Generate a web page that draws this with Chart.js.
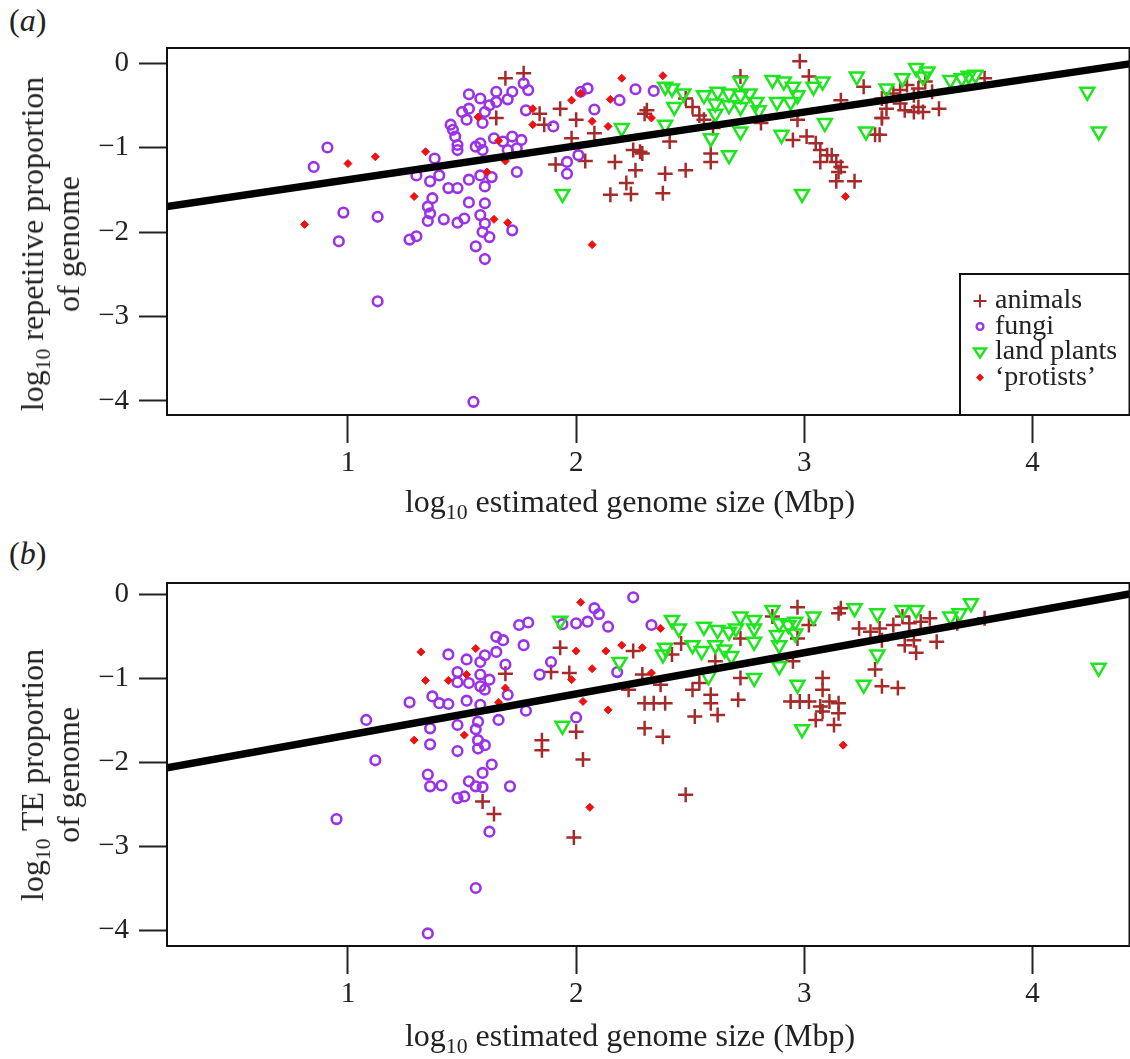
<!DOCTYPE html>
<html lang="en">

<head>
    <meta charset="UTF-8">
    <title>Repetitive and TE proportion vs genome size</title>
    <script src="https://cdn.jsdelivr.net/npm/chart.js"></script>
    <style>
        body { margin: 0; width: 1130px; height: 1059px; overflow: hidden; position: relative; background: #fff; }
        canvas { position: absolute; left: 0; }
        .lbl { position: absolute; font-family: "Liberation Serif", serif; font-size: 32px; color: #222; white-space: nowrap; transform: translate(-50%, -50%); }
        .ylbl { text-align: center; line-height: 36px; transform: translate(-50%, -50%) rotate(-90deg); }
        .panel { position: absolute; font-family: "Liberation Serif", serif; font-size: 32px; color: #222; }
        sub { font-size: 0.68em; line-height: 0; }
    </style>
</head>

<body>
    <div class="panel" style="left:9px; top:2px;">(<i>a</i>)</div>
    <div class="panel" style="left:9px; top:535px;">(<i>b</i>)</div>
    <canvas id="chartA" width="1140" height="530" style="top:0"></canvas>
    <canvas id="chartB" width="1140" height="524" style="top:535px"></canvas>
    <div class="lbl ylbl" style="left:50px; top:244px;">log<sub>10</sub> repetitive proportion<br>of genome</div>
    <div class="lbl ylbl" style="left:50px; top:775px;">log<sub>10</sub> TE proportion<br>of genome</div>
    <div class="lbl" style="left:630px; top:501px;">log<sub>10</sub> estimated genome size (Mbp)</div>
    <div class="lbl" style="left:630px; top:1035px;">log<sub>10</sub> estimated genome size (Mbp)</div>

    <script>
        // axis ranges and ticks
        const xRange = [0.207, 4.425];
        const yRangeA = [-4.166, 0.178];
        const yRangeB = [-4.18, 0.14];
        const xTicks = [1, 2, 3, 4];
        const yTicks = [-4, -3, -2, -1, 0];
        const legendLabels = ['animals', 'fungi', 'land plants', '\u2018protists\u2019'];

        // fitted lines (end points)
        const fitX = [0.207, 4.425];
        const fitA = [-1.70, -0.01];
        const fitB = [-2.06, 0.01];

        // panel (a): repetitive proportion
        const animalsA = [[1.69,-0.18],[1.77,-0.12],[1.65,-0.65],[1.84,-0.60],[1.86,-0.73],[1.93,-0.54],[2.00,-0.67],[1.98,-0.89],[1.91,-1.20],[2.04,-1.16],[2.08,-0.83],[2.17,-1.17],[2.25,-1.03],[2.28,-1.05],[2.26,-1.27],[2.22,-1.42],[2.15,-1.56],[2.24,-1.55],[2.30,-0.60],
            [2.98,0.02],[2.72,-0.16],[3.02,-0.16],[3.26,-0.28],[3.16,-0.44],[2.31,-0.56],[2.48,-0.42],[2.51,-0.52],[2.54,-0.62],[2.56,-0.67],[2.60,-0.77],[2.41,-0.93],[2.29,-1.07],[2.59,-1.07],[2.59,-1.17],[2.48,-1.27],[2.39,-1.31],[2.38,-1.54],[2.81,-0.71],[2.97,-0.67],[2.95,-0.91],[3.01,-0.87],[3.05,-0.95],[3.07,-1.03],[3.10,-1.09],[3.12,-1.09],[3.07,-1.17],[3.14,-1.17],[3.16,-1.23],[3.15,-1.29],[3.14,-1.40],[3.22,-1.40],[3.31,-0.85],[3.34,-0.65],
            [3.34,-0.42],[3.39,-0.36],[3.42,-0.32],[3.45,-0.26],[3.48,-0.38],[3.50,-0.30],[3.53,-0.22],[3.56,-0.34],[3.36,-0.54],[3.44,-0.56],[3.48,-0.58],[3.50,-0.52],[3.52,-0.58],[3.59,-0.54],[3.34,-0.65],[3.33,-0.85],[3.79,-0.18],[3.42,-0.48]];
        const fungiA = [[0.91,-1.00],[0.85,-1.23],[0.98,-1.77],[1.13,-1.82],[0.96,-2.11],[1.13,-2.82],
            [1.77,-0.24],[1.79,-0.32],[1.72,-0.34],[1.65,-0.34],[1.70,-0.43],[1.65,-0.46],[1.53,-0.37],[1.58,-0.42],[1.62,-0.50],[1.50,-0.58],[1.53,-0.54],[1.60,-0.58],[1.52,-0.67],[1.59,-0.71],[1.78,-0.56],[1.90,-0.75],[2.05,-0.30],[2.02,-0.34],[2.08,-0.55],[2.19,-0.44],[2.26,-0.31],
            [1.45,-0.73],[1.46,-0.79],[1.47,-0.87],[1.48,-0.97],[1.48,-1.03],[1.56,-0.99],[1.58,-0.95],[1.59,-1.03],[1.64,-0.89],[1.68,-0.93],[1.72,-0.87],[1.76,-0.91],[1.74,-1.01],[1.70,-1.03],[1.38,-1.13],[1.30,-1.33],[1.36,-1.40],[1.40,-1.33],[1.44,-1.48],[1.48,-1.48],[1.53,-1.38],[1.58,-1.33],[1.63,-1.35],[1.60,-1.46],[1.74,-1.29],[1.96,-1.17],[1.96,-1.31],[2.01,-1.09],
            [1.37,-1.60],[1.35,-1.70],[1.36,-1.78],[1.35,-1.87],[1.42,-1.85],[1.48,-1.89],[1.51,-1.84],[1.53,-1.65],[1.60,-1.66],[1.58,-1.80],[1.60,-1.90],[1.59,-2.00],[1.62,-2.06],[1.72,-1.98],[1.56,-2.17],[1.60,-2.32],[1.27,-2.09],[1.30,-2.05],[1.55,-4.01],[2.34,-0.33]];
        const plantsA = [[1.94,-1.55],[2.20,-0.77],[2.39,-0.28],[2.42,-0.30],[2.47,-0.36],[2.43,-0.52],[2.39,-0.73],[2.56,-0.38],[2.62,-0.34],[2.61,-0.48],[2.61,-0.60],[2.67,-0.36],[2.67,-0.50],[2.72,-0.22],[2.72,-0.38],[2.72,-0.52],[2.76,-0.36],[2.79,-0.46],[2.80,-0.56],[2.72,-0.81],[2.59,-0.89],[2.67,-1.09],
            [2.86,-0.20],[2.91,-0.22],[2.95,-0.28],[2.97,-0.38],[2.88,-0.46],[2.94,-0.46],[3.04,-0.28],[3.08,-0.22],[3.23,-0.16],[3.09,-0.71],[2.90,-0.85],[3.27,-0.81],[2.99,-1.55],
            [3.43,-0.18],[3.49,-0.06],[3.54,-0.10],[3.52,-0.16],[3.64,-0.20],[3.69,-0.18],[3.72,-0.15],[3.75,-0.14],[3.36,-0.30],[4.24,-0.34],[4.29,-0.81]];
        const protistsA = [[1.00,-1.19],[1.12,-1.11],[0.81,-1.91],[2.20,-0.18],[1.98,-0.44],[2.02,-0.36],[2.15,-0.43],[1.81,-0.54],[1.81,-0.73],[2.07,-0.69],[2.14,-0.75],[1.57,-0.64],[1.66,-0.92],[1.34,-1.05],[1.69,-1.16],[1.61,-1.29],[1.29,-1.58],[1.64,-1.85],[1.70,-1.89],[2.07,-2.15],[2.38,-0.15],[2.33,-0.65],[3.18,-1.58]];

        // panel (b): TE proportion
        const animalsB = [[1.93,-0.63],[2.25,-0.67],[1.69,-0.94],[1.89,-0.92],[1.97,-0.93],[2.29,-0.95],[2.23,-1.13],[2.30,-1.29],[2.30,-1.59],[2.00,-1.63],[1.85,-1.73],[1.85,-1.85],[2.03,-1.96],[1.59,-2.46],[1.64,-2.61],[1.99,-2.89],
            [2.97,-0.15],[3.16,-0.16],[3.15,-0.22],[2.86,-0.26],[3.02,-0.36],[3.24,-0.40],[3.29,-0.44],[3.33,-0.40],[2.72,-0.52],[2.97,-0.52],[2.42,-0.71],[2.46,-0.58],[2.61,-0.79],[2.95,-0.79],[2.72,-0.99],[3.08,-0.99],[3.08,-1.13],[3.31,-0.89],[3.34,-1.09],
            [2.37,-1.07],[2.54,-1.05],[2.51,-1.13],[2.59,-1.19],[2.34,-1.29],[2.39,-1.29],[2.59,-1.29],[2.71,-1.25],[2.52,-1.45],[2.62,-1.43],[2.38,-1.69],[2.94,-1.27],[2.98,-1.27],[3.02,-1.27],[3.07,-1.33],[3.11,-1.27],[3.15,-1.29],[3.08,-1.39],[3.15,-1.41],[3.05,-1.49],[3.13,-1.55],[2.48,-2.38],
            [3.39,-0.36],[3.43,-0.26],[3.46,-0.34],[3.51,-0.32],[3.55,-0.28],[3.34,-0.54],[3.44,-0.60],[3.48,-0.54],[3.49,-0.69],[3.58,-0.56],[3.67,-0.34],[3.79,-0.28],[3.41,-1.11]];
        const fungiB = [[1.08,-1.49],[1.12,-1.97],[0.95,-2.67],
            [2.25,-0.03],[2.08,-0.16],[2.10,-0.23],[2.14,-0.38],[2.00,-0.34],[2.05,-0.32],[1.94,-0.35],[1.75,-0.36],[1.79,-0.33],[1.77,-0.60],[1.65,-0.50],[1.68,-0.54],[1.65,-0.68],[1.69,-0.83],[1.44,-0.71],[1.52,-0.77],[1.58,-0.80],[1.60,-0.72],
            [1.48,-0.92],[1.48,-1.04],[1.53,-1.05],[1.58,-0.95],[1.62,-1.01],[1.58,-1.09],[1.60,-1.13],[1.70,-1.19],[1.89,-0.80],[1.84,-0.95],[2.18,-0.92],[1.27,-1.28],[1.37,-1.21],[1.40,-1.29],[1.44,-1.30],[1.52,-1.26],[1.58,-1.31],[1.78,-1.38],
            [1.66,-1.49],[1.57,-1.51],[1.48,-1.55],[1.36,-1.59],[1.56,-1.60],[1.36,-1.78],[1.48,-1.86],[1.57,-1.73],[1.60,-1.79],[1.57,-1.83],[2.00,-1.46],[1.63,-2.02],[1.59,-2.12],[1.35,-2.14],[1.36,-2.28],[1.41,-2.27],[1.53,-2.22],[1.56,-2.28],[1.59,-2.29],
            [1.48,-2.42],[1.51,-2.40],[1.71,-2.28],[1.62,-2.82],[1.56,-3.49],[1.35,-4.03],[2.33,-0.36]];
        const plantsB = [[1.93,-0.31],[2.19,-0.80],[1.94,-1.56],[2.42,-0.30],[2.45,-0.40],[2.39,-0.63],[2.38,-0.71],[2.51,-0.60],[2.55,-0.67],[2.56,-0.38],[2.62,-0.42],[2.61,-0.60],[2.65,-0.65],[2.67,-0.44],[2.70,-0.40],[2.72,-0.26],[2.78,-0.30],[2.78,-0.40],[2.78,-0.56],[2.68,-0.73],[2.58,-0.97],[2.78,-0.99],
            [2.86,-0.18],[2.89,-0.34],[2.93,-0.36],[2.96,-0.32],[2.88,-0.48],[2.89,-0.60],[2.96,-0.46],[3.04,-0.26],[2.89,-0.85],[2.97,-1.07],[2.99,-1.60],[3.22,-0.16],[3.32,-0.22],[3.32,-0.71],[3.26,-1.07],
            [3.43,-0.18],[3.49,-0.18],[3.64,-0.26],[3.68,-0.22],[3.73,-0.10],[4.29,-0.87]];
        const protistsB = [[2.02,-0.09],[1.32,-0.68],[1.56,-0.64],[2.00,-0.67],[2.13,-0.67],[2.20,-0.60],[2.29,-0.63],[1.34,-1.02],[1.44,-1.02],[1.52,-0.95],[1.69,-1.11],[1.66,-1.28],[1.98,-1.01],[2.07,-0.88],[2.03,-1.27],[2.14,-1.37],[1.29,-1.73],[1.51,-1.67],[2.06,-2.53],[2.37,-0.40],[2.33,-0.93],[3.17,-1.79]];

        const colors = { animals: '#a52a2a', fungi: '#9a32e8', plants: '#1ee61e', protists: '#ee1111' };
        const serif = '"Liberation Serif", serif';

        const toXY = arr => arr.map(p => ({ x: p[0], y: p[1] }));

        function makeDatasets(animals, fungi, plants, protists, fit) {
            return [
                { type: 'line', data: fitX.map((x, i) => ({ x: x, y: fit[i] })), borderColor: '#000', borderWidth: 7.5, pointRadius: 0, order: 0 },
                { label: 'protists', data: toXY(protists), pointStyle: 'rectRot', pointRadius: 4, backgroundColor: colors.protists, borderColor: colors.protists, borderWidth: 1, order: 1 },
                { label: 'land plants', data: toXY(plants), pointStyle: 'triangle', rotation: 180, pointRadius: 8, backgroundColor: 'rgba(0,0,0,0)', borderColor: colors.plants, borderWidth: 2.5, order: 2 },
                { label: 'fungi', data: toXY(fungi), pointStyle: 'circle', pointRadius: 4.8, backgroundColor: 'rgba(0,0,0,0)', borderColor: colors.fungi, borderWidth: 2.6, order: 3 },
                { label: 'animals', data: toXY(animals), pointStyle: 'cross', pointRadius: 7.5, borderColor: colors.animals, borderWidth: 2.5, order: 4 }
            ];
        }

        // black frame round the plot area
        const framePlugin = {
            id: 'frame',
            afterDraw(chart) {
                const { ctx, chartArea: a } = chart;
                ctx.save();
                ctx.strokeStyle = '#111';
                ctx.lineWidth = 2;
                ctx.strokeRect(a.left, a.top, a.right - a.left, a.bottom - a.top);
                ctx.restore();
            }
        };

        // legend box in panel (a)
        const legendPlugin = {
            id: 'boxLegend',
            afterDraw(chart) {
                const ctx = chart.ctx;
                const x0 = 960, y0 = 274, x1 = chart.chartArea.right, y1 = chart.chartArea.bottom;
                ctx.save();
                ctx.fillStyle = '#fff';
                ctx.fillRect(x0, y0, x1 - x0, y1 - y0);
                ctx.strokeStyle = '#111';
                ctx.lineWidth = 2;
                ctx.strokeRect(x0, y0, x1 - x0, y1 - y0);
                const mx = 980;
                legendLabels.forEach((label, i) => {
                    const y = 301 + i * 25.5;
                    ctx.lineWidth = 2;
                    if (i === 0) {
                        ctx.strokeStyle = colors.animals;
                        ctx.beginPath();
                        ctx.moveTo(mx - 6.5, y); ctx.lineTo(mx + 6.5, y);
                        ctx.moveTo(mx, y - 6.5); ctx.lineTo(mx, y + 6.5);
                        ctx.stroke();
                    } else if (i === 1) {
                        ctx.strokeStyle = colors.fungi;
                        ctx.lineWidth = 2.4;
                        ctx.beginPath();
                        ctx.arc(mx, y, 3.4, 0, Math.PI * 2);
                        ctx.stroke();
                    } else if (i === 2) {
                        ctx.strokeStyle = colors.plants;
                        ctx.lineWidth = 2.4;
                        ctx.beginPath();
                        ctx.moveTo(mx - 6, y - 3.5); ctx.lineTo(mx + 6, y - 3.5); ctx.lineTo(mx, y + 5.5);
                        ctx.closePath();
                        ctx.stroke();
                    } else {
                        ctx.fillStyle = colors.protists;
                        ctx.beginPath();
                        ctx.moveTo(mx, y - 4); ctx.lineTo(mx + 4, y); ctx.lineTo(mx, y + 4); ctx.lineTo(mx - 4, y);
                        ctx.closePath();
                        ctx.fill();
                    }
                    ctx.fillStyle = '#222';
                    ctx.font = '28px ' + serif;
                    ctx.textBaseline = 'middle';
                    ctx.fillText(label, 995, y);
                });
                ctx.restore();
            }
        };

        function makeChart(id, datasets, yRange, xAxisHeight, plugins) {
            return new Chart(document.getElementById(id), {
                type: 'scatter',
                data: { datasets: datasets },
                plugins: plugins,
                options: {
                    responsive: false,
                    animation: false,
                    devicePixelRatio: 1,
                    layout: { padding: { top: 48, right: 9, left: 0, bottom: 0 } },
                    plugins: { legend: { display: false }, tooltip: { enabled: false } },
                    scales: {
                        x: {
                            type: 'linear',
                            min: xRange[0],
                            max: xRange[1],
                            afterBuildTicks: s => { s.ticks = xTicks.map(v => ({ value: v })); },
                            afterFit: s => { s.height = xAxisHeight; },
                            border: { display: false },
                            grid: { drawOnChartArea: false, drawTicks: true, tickLength: 28, tickColor: '#222', tickWidth: 2 },
                            ticks: { color: '#222', padding: 3, maxRotation: 0, font: { family: serif, size: 29 } }
                        },
                        y: {
                            type: 'linear',
                            min: yRange[0],
                            max: yRange[1],
                            afterBuildTicks: s => { s.ticks = yTicks.map(v => ({ value: v })); },
                            afterFit: s => { s.width = 167; },
                            border: { display: false },
                            grid: { drawOnChartArea: false, drawTicks: true, tickLength: 28, tickColor: '#222', tickWidth: 2 },
                            ticks: {
                                color: '#222', padding: 10, font: { family: serif, size: 29 },
                                callback: v => (v < 0 ? '\u2212' + Math.abs(v) : String(v))
                            }
                        }
                    }
                }
            });
        }

        makeChart('chartA', makeDatasets(animalsA, fungiA, plantsA, protistsA, fitA), yRangeA, 115, [framePlugin, legendPlugin]);
        makeChart('chartB', makeDatasets(animalsB, fungiB, plantsB, protistsB, fitB), yRangeB, 113, [framePlugin]);
    </script>

</body>

</html>
